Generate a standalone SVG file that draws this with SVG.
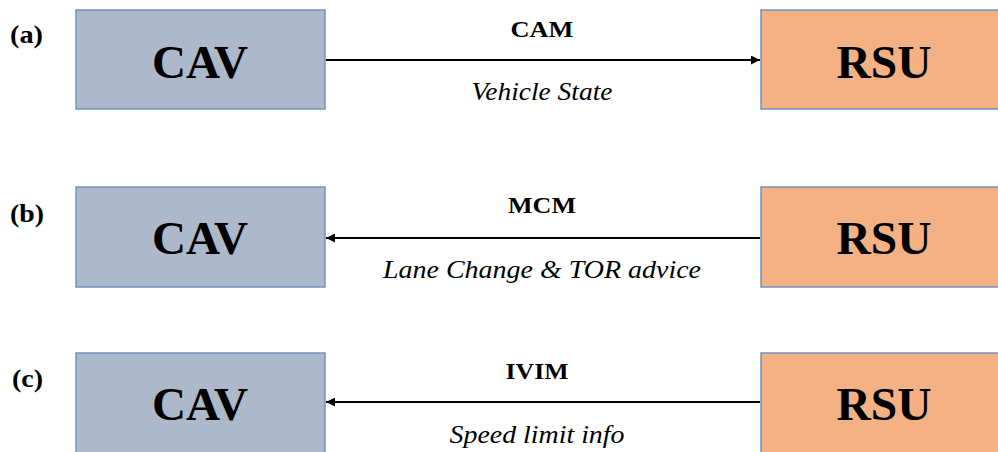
<svg xmlns="http://www.w3.org/2000/svg" width="998" height="452" viewBox="0 0 998 452">
<style>
.cav{fill:#adb9ca;stroke:#7192bd;stroke-width:1.5}
.rsu{fill:#f4b183;stroke:#7192bd;stroke-width:1.5}
text{font-family:"Liberation Serif","Times New Roman",Tinos,Times,serif;fill:#000}
.big{font-weight:bold;font-size:46px;text-anchor:middle}
.msg{font-weight:bold;font-size:23px;text-anchor:middle}
.desc{font-style:italic;font-size:25px;text-anchor:middle}
.lab{font-weight:bold;font-size:25px}
.conn{stroke:#000;stroke-width:2;fill:none}
</style>
<defs>
<marker id="ah" viewBox="0 0 10 10" refX="10" refY="5" markerWidth="5" markerHeight="4.5" orient="auto" markerUnits="strokeWidth">
<path d="M0,0 L10,5 L0,10 z" fill="#000"/>
</marker>
</defs>
<text class="lab" x="10" y="43" textLength="33" lengthAdjust="spacingAndGlyphs">(a)</text>
<text class="lab" x="10" y="222" textLength="34" lengthAdjust="spacingAndGlyphs">(b)</text>
<text class="lab" x="12" y="387" textLength="31" lengthAdjust="spacingAndGlyphs">(c)</text>
<g id="cav-a"><rect class="cav" x="76" y="10" width="249" height="99"/><text class="big" x="200" y="78" textLength="96" lengthAdjust="spacingAndGlyphs">CAV</text></g>
<g id="rsu-a"><rect class="rsu" x="761" y="10" width="245" height="99"/><text class="big" x="884" y="78" textLength="95" lengthAdjust="spacingAndGlyphs">RSU</text></g>
<g id="cav-b"><rect class="cav" x="76" y="187" width="249" height="100"/><text class="big" x="200" y="254" textLength="96" lengthAdjust="spacingAndGlyphs">CAV</text></g>
<g id="rsu-b"><rect class="rsu" x="761" y="187" width="245" height="100"/><text class="big" x="884" y="254" textLength="95" lengthAdjust="spacingAndGlyphs">RSU</text></g>
<g id="cav-c"><rect class="cav" x="76" y="353" width="249" height="102"/><text class="big" x="200" y="420" textLength="96" lengthAdjust="spacingAndGlyphs">CAV</text></g>
<g id="rsu-c"><rect class="rsu" x="761" y="353" width="245" height="102"/><text class="big" x="884" y="420" textLength="95" lengthAdjust="spacingAndGlyphs">RSU</text></g>
<g id="connectors">
<line class="conn" x1="326" y1="60" x2="760" y2="60" marker-end="url(#ah)"/>
<line class="conn" x1="760" y1="238" x2="326" y2="238" marker-end="url(#ah)"/>
<line class="conn" x1="760" y1="402" x2="326" y2="402" marker-end="url(#ah)"/>
<text class="msg" x="542" y="37" textLength="63" lengthAdjust="spacingAndGlyphs">CAM</text>
<text class="desc" x="542" y="100" textLength="141" lengthAdjust="spacingAndGlyphs">Vehicle State</text>
<text class="msg" x="542" y="213" textLength="68" lengthAdjust="spacingAndGlyphs">MCM</text>
<text class="desc" x="542" y="278" textLength="318" lengthAdjust="spacingAndGlyphs">Lane Change &amp; TOR advice</text>
<text class="msg" x="537" y="379" textLength="63" lengthAdjust="spacingAndGlyphs">IVIM</text>
<text class="desc" x="537" y="443" textLength="175" lengthAdjust="spacingAndGlyphs">Speed limit info</text>
</g>
</svg>
